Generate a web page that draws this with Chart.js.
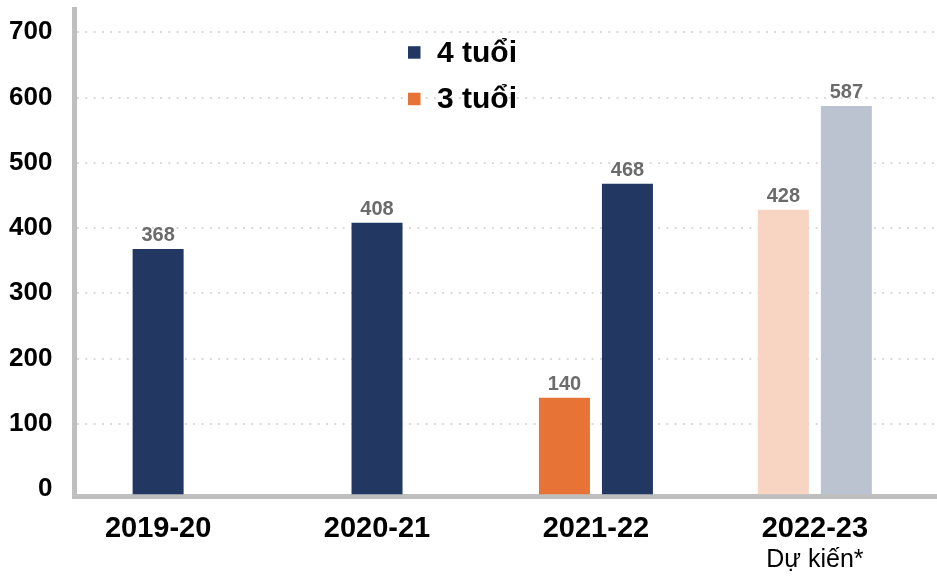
<!DOCTYPE html>
<html lang="vi">
<head>
<meta charset="utf-8">
<title>Trẻ 3 tuổi và 4 tuổi</title>
<script src="https://cdn.jsdelivr.net/npm/chart.js@4.4.1/dist/chart.umd.min.js"></script>
<style>
  html, body { margin: 0; padding: 0; background: #fff; }
  #khung { position: relative; width: 937px; height: 580px; }
</style>
</head>
<body>
<div id="khung"><canvas id="bieuDo"></canvas></div>
<script>
const namHoc = ['2019-20', '2020-21', '2021-22', '2022-23'];
const ghiChu = ['', '', '', 'Dự kiến*'];
const tre3Tuoi = [null, null, 140, 428];
const tre4Tuoi = [368, 408, 468, 587];
const vachTrucY = [0, 100, 200, 300, 400, 500, 600, 700];

const FONT = '"Liberation Sans", Arial, sans-serif';
Chart.defaults.font.family = FONT;

// mau dam cho so lieu thuc, mau nhat cho nam du kien
const mau3 = ctx => ghiChu[ctx.dataIndex] ? '#F8D5C3' : '#E87337';
const mau4 = ctx => ghiChu[ctx.dataIndex] ? '#BCC3D0' : '#223863';

const kieuCot = {
    base: -8,
    skipNull: true,
    categoryPercentage: 0.5756,
    barPercentage: 0.81,
    maxBarThickness: 51,
    borderWidth: 0
};

// so tren dau cot
const nhanGiaTri = {
    id: 'nhanGiaTri',
    afterDatasetsDraw(chart) {
        const ctx = chart.ctx;
        ctx.save();
        ctx.font = 'bold 20px ' + FONT;
        ctx.fillStyle = '#6b6b6b';
        ctx.textAlign = 'center';
        ctx.textBaseline = 'alphabetic';
        chart.data.datasets.forEach((ds, di) => {
            chart.getDatasetMeta(di).data.forEach((cot, i) => {
                const v = ds.data[i].y;
                if (v == null) return;
                ctx.fillText(String(v), cot.x, cot.y - 8);
            });
        });
        ctx.restore();
    }
};

// chu giai o giua phia tren, 4 tuoi truoc
const chuGiai = {
    id: 'chuGiai',
    afterDraw(chart) {
        const ctx = chart.ctx;
        const muc = [
            { ten: '4 tuổi', mau: '#223863' },
            { ten: '3 tuổi', mau: '#E87337' }
        ];
        ctx.save();
        ctx.font = 'bold 30px ' + FONT;
        ctx.textAlign = 'left';
        ctx.textBaseline = 'alphabetic';
        muc.forEach((m, i) => {
            const y = 61.5 + i * 46.5;
            ctx.fillStyle = m.mau;
            ctx.fillRect(408, y - 15.3, 12.5, 12.5);
            ctx.fillStyle = '#000';
            ctx.fillText(m.ten, 437, y);
        });
        ctx.restore();
    }
};

// dong phu duoi nhan truc x
const dongPhu = {
    id: 'dongPhu',
    afterDraw(chart) {
        const ctx = chart.ctx;
        const x = chart.scales.x;
        ctx.save();
        ctx.font = '25px ' + FONT;
        ctx.fillStyle = '#000';
        ctx.textAlign = 'center';
        ctx.textBaseline = 'alphabetic';
        ghiChu.forEach((t, i) => {
            if (t) ctx.fillText(t, x.getPixelForValue(i), 567);
        });
        ctx.restore();
    }
};

const ctx = document.getElementById('bieuDo').getContext('2d');
new Chart(ctx, {
    type: 'bar',
    data: {
        datasets: [
            Object.assign({
                label: '3 tuổi',
                data: namHoc.map((_, i) => ({ x: i, y: tre3Tuoi[i] })),
                backgroundColor: mau3
            }, kieuCot),
            Object.assign({
                label: '4 tuổi',
                data: namHoc.map((_, i) => ({ x: i, y: tre4Tuoi[i] })),
                backgroundColor: mau4
            }, kieuCot)
        ]
    },
    options: {
        responsive: true,
        maintainAspectRatio: false,
        animation: false,
        layout: { padding: { top: 9, left: 0, right: 0, bottom: 0 } },
        plugins: {
            legend: { display: false },
            tooltip: { enabled: false }
        },
        scales: {
            x: {
                type: 'linear',
                min: -0.382,
                max: 3.558,
                offset: false,
                bounds: 'data',
                grid: { display: false, drawTicks: false },
                border: { display: true, width: 5, color: '#BFBFBF' },
                ticks: {
                    color: '#000',
                    font: { size: 29, weight: 'bold' },
                    padding: 15,
                    autoSkip: false,
                    maxRotation: 0,
                    callback: v => namHoc[v]
                },
                afterBuildTicks: s => { s.ticks = namHoc.map((_, i) => ({ value: i })); },
                afterFit: s => { s.height = 83.3; s.paddingLeft = 0; s.paddingRight = 0; }
            },
            y: {
                min: -11.8,
                max: 735.7,
                bounds: 'data',
                grid: {
                    drawTicks: false,
                    lineWidth: 2,
                    color: c => (c.tick && c.tick.value === 0) ? 'rgba(0,0,0,0)' : '#DADADA'
                },
                border: { display: true, width: 5, color: '#BFBFBF', dash: [2, 6.3] },
                ticks: {
                    color: '#000',
                    font: { size: 26, weight: 'bold' },
                    padding: 22,
                    callback: v => String(v)
                },
                afterBuildTicks: s => { s.ticks = vachTrucY.map(v => ({ value: v })); },
                afterFit: s => { s.width = 74.5; s.paddingTop = 0; s.paddingBottom = 0; }
            }
        }
    },
    plugins: [nhanGiaTri, chuGiai, dongPhu]
});
</script>
</body>
</html>
